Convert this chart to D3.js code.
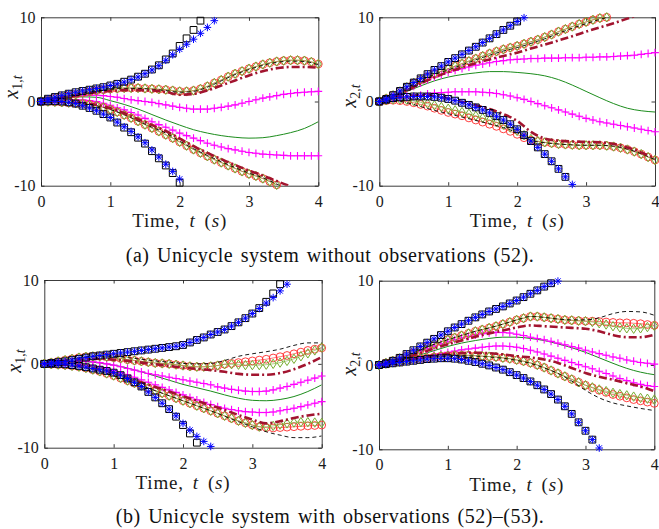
<!DOCTYPE html>
<html>
<head>
<meta charset="utf-8">
<script src="https://cdn.jsdelivr.net/npm/d3@7"></script>
<style>
  body { margin: 0; background: #fff; }
  svg { display: block; }
  text { white-space: pre; }
</style>
</head>
<body>
<svg id="chart" width="659" height="529"></svg>
<script>
// time grids (s): markers every 0.1 s, smooth lines every 0.2 s
const tFine = [0,0.1,0.2,0.3,0.4,0.5,0.6,0.7,0.8,0.9,1,1.1,1.2,1.3,1.4,1.5,1.6,1.7,1.8,1.9,2,2.1,2.2,2.3,2.4,2.5,2.6,2.7,2.8,2.9,3,3.1,3.2,3.3,3.4,3.5,3.6,3.7,3.8,3.9,4];
const tCoarse = [0,0.2,0.4,0.6,0.8,1,1.2,1.4,1.6,1.8,2,2.2,2.4,2.6,2.8,3,3.2,3.4,3.6,3.8,4];
const xTicks = [0, 1, 2, 3, 4];
const yTicks = [-10, 0, 10];
const captionA = '(a) Unicycle system without observations (52).';
const captionB = '(b) Unicycle system with observations (52)\u2013(53).';

// ---- (a) x1 ----
const a1Mean = [0,0.25,0.45,0.55,0.5,0.1,-0.35,-0.9,-1.55,-2.2,-2.8,-3.35,-3.75,-4.05,-4.25,-4.35,-4.3,-4.05,-3.7,-3.2,-2.4];
const a1DdHi = [0,0.35,0.6,0.85,1.1,1.25,1.35,1.35,1.3,1.15,0.8,0.9,1.3,1.9,2.5,3.1,3.6,3.95,4.1,4.1,4.0];
const a1DdLo = [0,-0.05,-0.1,-0.2,-0.4,-0.8,-1.4,-2.1,-2.8,-3.5,-4.4,-5.3,-6.1,-6.85,-7.55,-8.2,-8.8,-9.45,-10.1];
const a1DsHi = [0,0.4,0.7,1.0,1.25,1.45,1.55,1.55,1.45,1.3,1.1,1.2,1.7,2.45,3.2,3.8,4.3,4.65,4.8,4.75,4.35];
const a1DsLo = [0,-0.05,-0.15,-0.25,-0.5,-0.95,-1.55,-2.3,-3.05,-3.75,-4.7,-5.6,-6.4,-7.15,-7.85,-8.5,-9.05,-9.8,-10.6];
const a1PlHi = [0,0.1,0.25,0.4,0.5,0.6,0.7,0.75,0.75,0.7,0.6,0.5,0.35,0.2,0.1,0,-0.1,-0.25,-0.4,-0.55,-0.7,-0.8,-0.9,-0.9,-0.9,-0.8,-0.7,-0.55,-0.4,-0.2,0,0.2,0.4,0.55,0.7,0.85,0.95,1.05,1.1,1.15,1.2];
const a1PlLo = [0,0.05,0.1,0.15,0.2,0.2,0.2,0.1,0,-0.2,-0.45,-0.75,-1.0,-1.3,-1.6,-2.0,-2.4,-2.75,-3.05,-3.4,-3.75,-4.05,-4.35,-4.65,-4.95,-5.2,-5.4,-5.6,-5.75,-5.9,-6.05,-6.15,-6.25,-6.3,-6.35,-6.4,-6.45,-6.45,-6.45,-6.45,-6.45];
const a1CiHi = [0,0.2,0.4,0.55,0.7,0.85,1.0,1.15,1.3,1.4,1.5,1.55,1.6,1.6,1.6,1.55,1.5,1.45,1.4,1.3,1.2,1.2,1.3,1.5,1.8,2.2,2.55,2.95,3.3,3.6,3.9,4.15,4.4,4.6,4.75,4.85,4.9,4.9,4.85,4.7,4.45];
const a1CiLo = [0,-0.02,-0.05,-0.1,-0.15,-0.2,-0.25,-0.35,-0.5,-0.7,-0.95,-1.25,-1.6,-1.95,-2.35,-2.75,-3.15,-3.55,-3.95,-4.35,-4.8,-5.25,-5.7,-6.1,-6.5,-6.9,-7.25,-7.6,-7.95,-8.3,-8.6,-8.85,-9.15,-9.5,-9.9];
const a1DiHi = [0,0.2,0.4,0.55,0.7,0.85,1.0,1.15,1.3,1.4,1.5,1.55,1.6,1.6,1.6,1.55,1.5,1.45,1.4,1.3,1.2,1.2,1.3,1.5,1.8,2.2,2.55,2.95,3.3,3.6,3.9,4.15,4.4,4.6,4.75,4.85,4.9,4.9,4.85,4.7,4.45];
const a1DiLo = [0,-0.02,-0.05,-0.1,-0.15,-0.2,-0.25,-0.35,-0.5,-0.7,-0.95,-1.25,-1.6,-1.95,-2.35,-2.75,-3.15,-3.55,-3.95,-4.35,-4.8,-5.25,-5.7,-6.1,-6.5,-6.9,-7.25,-7.6,-7.95,-8.3,-8.6,-8.85,-9.15,-9.5,-9.9];
const a1SqHi = [0,0.33,0.53,0.73,0.93,1.1,1.25,1.4,1.55,1.7,1.9,2.1,2.35,2.6,2.95,3.3,3.8,4.3,5.0,5.7,6.6,7.5,8.5,9.6];
const a1SqLo = [0,0.02,0.03,0,-0.1,-0.25,-0.5,-0.77,-1.1,-1.5,-1.9,-2.5,-3.1,-3.65,-4.3,-5.0,-5.9,-6.75,-7.6,-8.5,-9.65];
const a1StHi = [0,0.33,0.53,0.73,0.93,1.1,1.25,1.4,1.55,1.7,1.9,2.1,2.3,2.6,2.9,3.3,3.75,4.25,4.9,5.55,6.2,6.8,7.4,8.1,8.8,9.6];
const a1StLo = [0,0.02,0.03,0,-0.1,-0.25,-0.5,-0.77,-1.1,-1.5,-1.9,-2.45,-3.0,-3.55,-4.2,-4.9,-5.75,-6.6,-7.45,-8.3,-9.2];

// ---- (a) x2 ----
const a2Mean = [0,0.6,1.2,1.85,2.45,2.9,3.2,3.4,3.55,3.55,3.45,3.3,3.05,2.6,1.95,1.2,0.45,-0.25,-0.8,-1.1,-1.25];
const a2DdHi = [0,0.5,1.3,2.15,2.85,3.5,4.05,4.55,5.0,5.4,5.8,6.3,6.75,7.25,7.75,8.3,8.8,9.3,9.85,10.4];
const a2DdLo = [0,0.4,0.65,0.75,0.65,0.35,-0.05,-0.45,-0.9,-1.5,-2.3,-3.6,-4.4,-4.65,-4.75,-4.8,-4.85,-5.05,-5.45,-6.05,-6.75];
const a2DsHi = [0,0.7,1.6,2.5,3.2,3.75,4.35,4.95,5.5,6.0,6.4,6.9,7.45,8.1,8.7,9.25,9.75,10.2];
const a2DsLo = [0,0.1,-0.15,-0.6,-1.05,-1.45,-1.85,-2.25,-2.65,-3.1,-3.7,-4.6,-4.9,-5.05,-5.15,-5.2,-5.2,-5.3,-5.65,-6.2,-6.9];
const a2PlHi = [0,0.3,0.65,1.0,1.4,1.8,2.2,2.6,2.9,3.2,3.45,3.7,3.9,4.1,4.3,4.45,4.6,4.75,4.85,4.95,5.0,5.05,5.1,5.1,5.15,5.15,5.15,5.2,5.2,5.2,5.25,5.25,5.3,5.3,5.35,5.4,5.45,5.5,5.6,5.7,5.8];
const a2PlLo = [0,0.15,0.3,0.4,0.5,0.6,0.75,0.9,1.0,1.05,1.1,1.15,1.15,1.15,1.15,1.1,1.05,0.95,0.8,0.65,0.45,0.25,0,-0.25,-0.5,-0.75,-1.0,-1.25,-1.5,-1.75,-2.0,-2.2,-2.4,-2.55,-2.7,-2.85,-3.0,-3.15,-3.3,-3.45,-3.6];
const a2CiHi = [0,0.35,0.75,1.2,1.7,2.2,2.6,2.95,3.3,3.6,3.9,4.2,4.5,4.8,5.1,5.4,5.7,5.95,6.2,6.4,6.6,6.85,7.1,7.35,7.65,7.95,8.3,8.6,8.9,9.2,9.45,9.7,9.9,10.0];
const a2CiLo = [0,0.1,0.15,0.1,0,-0.15,-0.35,-0.55,-0.8,-1.05,-1.3,-1.5,-1.7,-1.95,-2.2,-2.45,-2.7,-2.95,-3.25,-3.55,-3.9,-4.3,-4.6,-4.75,-4.85,-4.95,-5.05,-5.1,-5.15,-5.2,-5.2,-5.2,-5.2,-5.25,-5.35,-5.5,-5.7,-5.95,-6.25,-6.6,-6.95];
const a2DiHi = [0,0.35,0.75,1.2,1.7,2.2,2.6,2.95,3.3,3.6,3.9,4.2,4.5,4.8,5.1,5.4,5.7,5.95,6.2,6.4,6.6,6.85,7.1,7.35,7.65,7.95,8.3,8.6,8.9,9.2,9.45,9.7,9.9,10.0];
const a2DiLo = [0,0.15,0.25,0.25,0.2,0.05,-0.1,-0.25,-0.45,-0.65,-0.85,-1.05,-1.25,-1.45,-1.7,-1.95,-2.2,-2.45,-2.75,-3.1,-3.5,-4.0,-4.45,-4.7,-4.85,-4.95,-5.05,-5.1,-5.15,-5.2,-5.2,-5.2,-5.2,-5.25,-5.35,-5.5,-5.7,-5.95,-6.25,-6.6,-6.95];
const a2SqHi = [0,0.3,0.75,1.25,1.75,2.25,2.75,3.25,3.75,4.2,4.7,5.15,5.6,6.05,6.5,7.0,7.5,8.0,8.5,9.0,9.5];
const a2SqLo = [0,0.2,0.4,0.5,0.55,0.6,0.6,0.6,0.55,0.45,0.3,0.1,-0.15,-0.4,-0.7,-1.0,-1.35,-1.75,-2.2,-2.7,-3.3,-4.0,-4.7,-5.45,-6.25,-7.1,-8.0,-8.95];
const a2StHi = [0,0.3,0.75,1.25,1.75,2.25,2.75,3.25,3.75,4.2,4.7,5.15,5.6,6.05,6.5,7.0,7.5,8.0,8.5,9.0,9.5,9.95];
const a2StLo = [0,0.2,0.4,0.5,0.55,0.6,0.6,0.6,0.55,0.45,0.3,0.1,-0.15,-0.4,-0.7,-1.0,-1.35,-1.75,-2.2,-2.7,-3.3,-4.0,-4.7,-5.45,-6.25,-7.1,-8.0,-8.95,-9.85];

// ---- (b) x1 ----
const b1Mean = [0,0.15,0.25,0.25,0.1,-0.15,-0.5,-0.95,-1.45,-1.95,-2.45,-2.85,-3.25,-3.7,-4.1,-4.35,-4.4,-4.25,-3.9,-3.3,-2.5];
const b1DdHi = [0,0.25,0.45,0.55,0.6,0.5,0.35,0.15,-0.05,-0.25,-0.45,-0.6,-0.75,-0.95,-1.2,-1.3,-1.3,-1.1,-0.65,0,0.8];
const b1DdLo = [0,-0.05,-0.15,-0.35,-0.7,-1.1,-1.65,-2.2,-2.75,-3.3,-3.85,-4.4,-4.95,-5.5,-6.1,-6.65,-7.1,-6.85,-6.45,-6.15,-5.95];
const b1DsHi = [0,0.3,0.6,0.85,0.95,0.9,0.75,0.55,0.35,0.2,0.05,0,0.05,0.4,0.9,1.2,1.45,1.75,2.2,2.5,2.5];
const b1DsLo = [0,-0.1,-0.25,-0.5,-0.9,-1.4,-2.0,-2.6,-3.2,-3.8,-4.4,-5.0,-5.6,-6.25,-6.9,-7.5,-8.1,-8.5,-8.8,-8.8,-8.6];
const b1PlHi = [0,0.1,0.2,0.25,0.3,0.3,0.3,0.25,0.15,0,-0.15,-0.35,-0.55,-0.75,-0.95,-1.15,-1.3,-1.45,-1.6,-1.75,-1.9,-2.05,-2.2,-2.35,-2.5,-2.75,-2.9,-3.05,-3.15,-3.25,-3.3,-3.3,-3.25,-3.1,-2.9,-2.7,-2.45,-2.2,-1.95,-1.7,-1.45];
const b1PlLo = [0,0.05,0.1,0.1,0.05,0,-0.1,-0.25,-0.4,-0.6,-0.8,-1.05,-1.3,-1.6,-1.9,-2.2,-2.5,-2.8,-3.1,-3.4,-3.7,-4.0,-4.3,-4.6,-4.85,-5.1,-5.3,-5.45,-5.6,-5.7,-5.75,-5.8,-5.8,-5.75,-5.6,-5.45,-5.3,-5.1,-4.9,-4.7,-4.5];
const b1CiHi = [0,0.15,0.3,0.45,0.6,0.75,0.85,0.9,0.9,0.85,0.75,0.65,0.5,0.4,0.3,0.2,0.1,0.05,0,-0.1,-0.2,-0.3,-0.35,-0.35,-0.3,-0.2,-0.05,0.05,0.15,0.25,0.35,0.45,0.55,0.7,0.85,1.0,1.2,1.4,1.6,1.75,1.9];
const b1CiLo = [0,-0.05,-0.1,-0.15,-0.25,-0.35,-0.5,-0.7,-0.9,-1.15,-1.4,-1.7,-2.0,-2.3,-2.6,-2.9,-3.2,-3.5,-3.8,-4.1,-4.4,-4.7,-5.0,-5.3,-5.6,-5.9,-6.2,-6.5,-6.8,-7.05,-7.3,-7.5,-7.6,-7.65,-7.6,-7.55,-7.5,-7.45,-7.4,-7.35,-7.3];
const b1DiHi = [0,0.15,0.3,0.45,0.6,0.75,0.85,0.9,0.9,0.85,0.75,0.65,0.5,0.4,0.3,0.2,0.1,0.05,0,-0.1,-0.2,-0.3,-0.35,-0.35,-0.3,-0.2,-0.05,-0.05,-0.1,-0.15,-0.15,-0.15,-0.1,0,0.15,0.35,0.6,0.9,1.25,1.6,1.95];
const b1DiLo = [0,-0.05,-0.1,-0.15,-0.25,-0.35,-0.5,-0.7,-0.9,-1.15,-1.4,-1.7,-2.0,-2.3,-2.6,-2.9,-3.2,-3.5,-3.8,-4.1,-4.4,-4.7,-5.0,-5.3,-5.6,-5.9,-6.2,-6.5,-6.8,-7.05,-7.3,-7.5,-7.5,-7.4,-7.25,-7.1,-7.0,-6.95,-6.95,-7.0,-7.05];
const b1SqHi = [0,0.1,0.2,0.3,0.45,0.6,0.75,0.9,1.0,1.1,1.2,1.3,1.4,1.5,1.6,1.7,1.8,1.9,2.0,2.1,2.25,2.55,2.85,3.15,3.5,3.8,4.1,4.5,4.95,5.45,6.0,6.65,7.4,8.4,9.5];
const b1SqLo = [0,0,0,-0.05,-0.15,-0.25,-0.4,-0.55,-0.7,-0.85,-1.05,-1.35,-1.75,-2.2,-2.7,-3.35,-4.0,-4.7,-5.4,-6.3,-7.3,-8.3,-9.4];
const b1StHi = [0,0.1,0.2,0.3,0.45,0.6,0.75,0.9,1.0,1.1,1.2,1.3,1.4,1.5,1.6,1.7,1.8,1.9,2.0,2.1,2.25,2.55,2.85,3.15,3.5,3.8,4.1,4.5,4.95,5.45,6.0,6.6,7.25,7.9,8.7,9.5];
const b1StLo = [0,0,0,-0.05,-0.15,-0.25,-0.4,-0.55,-0.7,-0.85,-1.05,-1.35,-1.75,-2.2,-2.7,-3.35,-4.0,-4.7,-5.4,-6.2,-7.1,-7.9,-8.65,-9.25,-9.85];

// ---- (b) x2 ----
const b2Mean = [0,0.35,0.75,1.2,1.7,2.2,2.6,2.9,3.15,3.3,3.3,3.15,2.9,2.5,2.05,1.5,0.85,0.2,-0.4,-0.85,-1.15];
const b2DdHi = [0,0.4,0.9,1.4,1.95,2.45,2.9,3.35,3.75,4.1,4.45,4.7,4.6,4.5,4.4,4.3,4.0,3.55,3.3,3.3,3.6];
const b2DdLo = [0,0.25,0.55,0.85,1.1,1.3,1.4,1.45,1.4,1.25,1.05,0.9,0.65,0.25,-0.35,-0.95,-1.4,-1.75,-2.15,-2.55,-3.1];
const b2DsHi = [0,0.5,1.1,1.8,2.45,3.0,3.5,4.0,4.4,4.85,5.35,5.75,5.65,5.45,5.35,5.35,5.6,6.1,6.35,6.3,5.9];
const b2DsLo = [0,0.25,0.5,0.75,0.95,1.05,1.1,1.05,0.95,0.8,0.55,0.2,-0.35,-1.0,-1.9,-3.0,-3.9,-4.5,-4.85,-5.15,-5.4];
const b2PlHi = [0,0.2,0.45,0.75,1.05,1.35,1.65,1.95,2.25,2.5,2.75,3.0,3.2,3.4,3.55,3.7,3.8,3.85,3.85,3.8,3.65,3.5,3.3,3.15,3.0,2.8,2.6,2.4,2.2,2.0,1.75,1.55,1.35,1.15,0.95,0.8,0.6,0.45,0.3,0.2,0.1];
const b2PlLo = [0,0.15,0.3,0.45,0.6,0.75,0.9,1.05,1.2,1.35,1.5,1.65,1.8,1.9,2.0,2.1,2.2,2.25,2.25,2.2,2.1,1.95,1.75,1.55,1.3,1.05,0.8,0.55,0.3,0.05,-0.2,-0.45,-0.75,-1.0,-1.3,-1.6,-1.85,-2.1,-2.3,-2.45,-2.55];
const b2CiHi = [0,0.25,0.5,0.8,1.1,1.45,1.8,2.15,2.45,2.75,3.0,3.25,3.5,3.75,4.0,4.2,4.4,4.6,4.85,5.1,5.35,5.55,5.75,5.75,5.65,5.55,5.45,5.35,5.3,5.25,5.2,5.2,5.15,5.1,5.05,5.0,5.0,4.95,4.9,4.8,4.7];
const b2CiLo = [0,0.15,0.3,0.4,0.55,0.65,0.75,0.85,0.95,1.05,1.1,1.15,1.15,1.15,1.1,1.05,1.0,0.95,0.85,0.75,0.6,0.45,0.25,0,-0.3,-0.65,-1.0,-1.35,-1.7,-2.05,-2.4,-2.7,-3.0,-3.25,-3.5,-3.7,-3.9,-4.1,-4.25,-4.4,-4.55];
const b2DiHi = [0,0.25,0.5,0.8,1.1,1.45,1.8,2.15,2.45,2.75,3.0,3.25,3.5,3.75,4.0,4.2,4.4,4.6,4.85,5.1,5.35,5.55,5.75,5.75,5.65,5.55,5.45,5.35,5.3,5.25,5.2,5.1,4.95,4.8,4.6,4.45,4.35,4.3,4.35,4.5,4.65];
const b2DiLo = [0,0.15,0.3,0.4,0.55,0.65,0.75,0.85,0.95,1.05,1.1,1.15,1.15,1.15,1.1,1.05,1.0,0.95,0.85,0.75,0.6,0.45,0.25,0,-0.3,-0.65,-1.0,-1.35,-1.7,-2.05,-2.4,-2.65,-2.9,-3.1,-3.3,-3.45,-3.6,-3.75,-3.9,-4.0,-4.1];
const b2SqHi = [0,0.2,0.5,0.85,1.3,1.75,2.2,2.65,3.1,3.55,4.0,4.45,4.85,5.25,5.65,6.0,6.35,6.65,6.95,7.3,7.65,8.05,8.45,8.85,9.3,9.7];
const b2SqLo = [0,0.1,0.2,0.3,0.4,0.5,0.6,0.7,0.75,0.8,0.8,0.75,0.65,0.5,0.35,0.15,-0.05,-0.3,-0.55,-0.85,-1.2,-1.55,-1.95,-2.4,-2.9,-3.45,-4.1,-4.9,-5.8,-6.8,-7.8,-8.85];
const b2StHi = [0,0.2,0.5,0.85,1.3,1.75,2.2,2.65,3.1,3.55,4.0,4.45,4.85,5.25,5.65,6.0,6.35,6.65,6.95,7.3,7.65,8.05,8.45,8.85,9.3,9.7,9.95];
const b2StLo = [0,0.1,0.2,0.3,0.4,0.5,0.6,0.7,0.75,0.8,0.8,0.75,0.65,0.5,0.35,0.15,-0.05,-0.3,-0.55,-0.85,-1.2,-1.55,-1.95,-2.4,-2.9,-3.45,-4.1,-4.9,-5.8,-6.8,-7.8,-8.85,-9.85];

const FONT = '"Liberation Serif", "Times New Roman", serif';
const AXIS_COLOR = '#262626';

const panels = [
    { id: 'a1', left: 41, right: 318.3, top: 17.3, bottom: 185.7, labY: 87, sub: '1',
      mean: a1Mean, dd: [a1DdHi, a1DdLo], ds: [a1DsHi, a1DsLo], pl: [a1PlHi, a1PlLo],
      ci: [a1CiHi, a1CiLo], di: [a1DiHi, a1DiLo], sq: [a1SqHi, a1SqLo], st: [a1StHi, a1StLo] },
    { id: 'a2', left: 379.3, right: 655, top: 17.3, bottom: 185.7, labY: 96, sub: '2',
      mean: a2Mean, dd: [a2DdHi, a2DdLo], ds: [a2DsHi, a2DsLo], pl: [a2PlHi, a2PlLo],
      ci: [a2CiHi, a2CiLo], di: [a2DiHi, a2DiLo], sq: [a2SqHi, a2SqLo], st: [a2StHi, a2StLo] },
    { id: 'b1', left: 44.3, right: 321.7, top: 280, bottom: 447.7, labY: 361, sub: '1',
      mean: b1Mean, dd: [b1DdHi, b1DdLo], ds: [b1DsHi, b1DsLo], pl: [b1PlHi, b1PlLo],
      ci: [b1CiHi, b1CiLo], di: [b1DiHi, b1DiLo], sq: [b1SqHi, b1SqLo], st: [b1StHi, b1StLo] },
    { id: 'b2', left: 379, right: 654.3, top: 280.7, bottom: 449.3, labY: 364, sub: '2',
      mean: b2Mean, dd: [b2DdHi, b2DdLo], ds: [b2DsHi, b2DsLo], pl: [b2PlHi, b2PlLo],
      ci: [b2CiHi, b2CiLo], di: [b2DiHi, b2DiLo], sq: [b2SqHi, b2SqLo], st: [b2StHi, b2StLo] }
];

const shapes = {
    plus: r => `M${-r},0H${r}M0,${-r}V${r}`,
    star: r => {
        const k = r * 0.72;
        return `M${-r},0H${r}M0,${-r}V${r}M${-k},${-k}L${k},${k}M${-k},${k}L${k},${-k}`;
    },
    square: r => `M${-r},${-r}H${r}V${r}H${-r}Z`,
    diamond: r => `M0,${-r * 1.3}L${r * 0.85},0L0,${r * 1.3}L${-r * 0.85},0Z`,
    circle: r => `M${r},0A${r},${r} 0 1,1 ${-r},0A${r},${r} 0 1,1 ${r},0Z`
};

const svg = d3.select('#chart');
svg.append('rect').attr('width', 659).attr('height', 529).attr('fill', '#fff');
const defs = svg.append('defs');

function drawPanel(p) {
    const x = d3.scaleLinear().domain([0, 4]).range([p.left, p.right]);
    const y = d3.scaleLinear().domain([-10, 10]).range([p.bottom, p.top]);
    const g = svg.append('g');

    defs.append('clipPath').attr('id', `clip-${p.id}`)
        .append('rect')
        .attr('x', p.left).attr('y', p.top)
        .attr('width', p.right - p.left).attr('height', p.bottom - p.top);

    // axes box with inward ticks
    const styleAxis = sel => {
        sel.attr('font-family', FONT).attr('font-size', 16);
        sel.select('.domain').attr('stroke', AXIS_COLOR).attr('stroke-width', 0.9);
        sel.selectAll('.tick line').attr('stroke', AXIS_COLOR).attr('stroke-width', 0.9);
        sel.selectAll('.tick text').attr('fill', '#1a1a1a');
    };
    g.append('g').attr('transform', `translate(0,${p.bottom})`)
        .call(d3.axisBottom(x).tickValues(xTicks).tickSize(-3.5).tickSizeOuter(0)
            .tickPadding(9.5).tickFormat(d => String(d)))
        .call(styleAxis);
    g.append('g').attr('transform', `translate(0,${p.top})`)
        .call(d3.axisTop(x).tickValues(xTicks).tickSize(-3.5).tickSizeOuter(0).tickFormat(''))
        .call(styleAxis);
    g.append('g').attr('transform', `translate(${p.left},0)`)
        .call(d3.axisLeft(y).tickValues(yTicks).tickSize(-3.5).tickSizeOuter(0)
            .tickPadding(5.5).tickFormat(d => String(d)))
        .call(styleAxis);
    g.append('g').attr('transform', `translate(${p.right},0)`)
        .call(d3.axisRight(y).tickValues(yTicks).tickSize(-3.5).tickSizeOuter(0).tickFormat(''))
        .call(styleAxis);

    const lineGen = curve => d3.line()
        .x(d => x(d[0]))
        .y(d => y(d[1]))
        .curve(curve);

    function drawLine(vals, ts, style) {
        g.append('g').attr('clip-path', `url(#clip-${p.id})`)
            .append('path')
            .datum(vals.map((v, i) => [ts[i], v]))
            .attr('d', lineGen(style.curve || d3.curveMonotoneX))
            .attr('fill', 'none')
            .attr('stroke', style.stroke)
            .attr('stroke-width', style.width)
            .attr('stroke-opacity', style.opacity || 1)
            .attr('stroke-dasharray', style.dash || null)
            .attr('stroke-linecap', 'butt');
    }

    function drawMarks(vals, ts, shape, r, stroke, width) {
        const pts = vals.map((v, i) => [ts[i], v]).filter(d => Math.abs(d[1]) <= 10.001);
        g.append('g').selectAll('path')
            .data(pts)
            .enter()
            .append('path')
            .attr('transform', d => `translate(${x(d[0])},${y(d[1])})`)
            .attr('d', shapes[shape](r))
            .attr('fill', 'none')
            .attr('stroke', stroke)
            .attr('stroke-width', width);
    }

    // mean
    drawLine(p.mean, tCoarse, { stroke: '#1c8c1c', width: 1 });

    // magenta plus bounds
    p.pl.forEach(v => {
        drawLine(v, tFine, { stroke: '#ff00ff', width: 1.4, opacity: 0.5 });
        drawMarks(v, tFine, 'plus', 3.9, '#ff00ff', 1.1);
    });

    // red circles
    p.ci.forEach(v => {
        drawLine(v, tFine, { stroke: '#ff2020', width: 0.6 });
        drawMarks(v, tFine, 'circle', 3.9, '#ff2a2a', 0.9);
    });

    // green diamonds
    p.di.forEach(v => {
        drawLine(v, tFine, { stroke: '#77ac30', width: 0.6 });
        drawMarks(v, tFine, 'diamond', 3.6, '#77ac30', 1);
    });

    // black dashed
    p.ds.forEach(v => drawLine(v, tCoarse, { stroke: '#000', width: 0.9, dash: '4,3' }));

    // dark red dash-dot
    p.dd.forEach(v => drawLine(v, tCoarse, { stroke: '#a2142f', width: 2.6, dash: '8,3,2,3' }));

    // black squares
    p.sq.forEach(v => drawMarks(v, tFine, 'square', 3.4, '#000', 1));

    // blue asterisks
    p.st.forEach(v => {
        drawLine(v, tFine, { stroke: '#3355ff', width: 0.6, opacity: 0.6 });
        drawMarks(v, tFine, 'star', 3.8, '#0000ff', 1);
    });

    // x label
    const tl = g.append('text')
        .attr('x', (p.left + p.right) / 2)
        .attr('y', p.bottom + 41.5)
        .attr('text-anchor', 'middle')
        .attr('font-family', FONT)
        .attr('font-size', 19)
        .attr('letter-spacing', 0.8)
        .attr('word-spacing', 3.5)
        .attr('fill', '#1a1a1a');
    tl.append('tspan').text('Time, ');
    tl.append('tspan').attr('font-style', 'italic').text('t');
    tl.append('tspan').text(' (');
    tl.append('tspan').attr('font-style', 'italic').text('s');
    tl.append('tspan').text(')');

    // y label
    const yl = g.append('text')
        .attr('transform', `translate(${p.left - 23.5},${p.labY}) rotate(-90)`)
        .attr('text-anchor', 'middle')
        .attr('font-family', FONT)
        .attr('font-size', 20)
        .attr('fill', '#1a1a1a');
    yl.append('tspan').attr('font-style', 'italic').text('x');
    yl.append('tspan').attr('font-size', 14).attr('dy', 4).text(p.sub + ',');
    yl.append('tspan').attr('font-size', 14).attr('font-style', 'italic').text('t');
}

panels.forEach(drawPanel);

// captions
[[captionA, 262], [captionB, 523]].forEach(([txt, yPos]) => {
    svg.append('text')
        .attr('x', 330)
        .attr('y', yPos)
        .attr('text-anchor', 'middle')
        .attr('font-family', FONT)
        .attr('font-size', 20)
        .attr('letter-spacing', 0.5)
        .attr('word-spacing', 2)
        .attr('fill', '#111')
        .text(txt);
});
</script>
</body>
</html>
